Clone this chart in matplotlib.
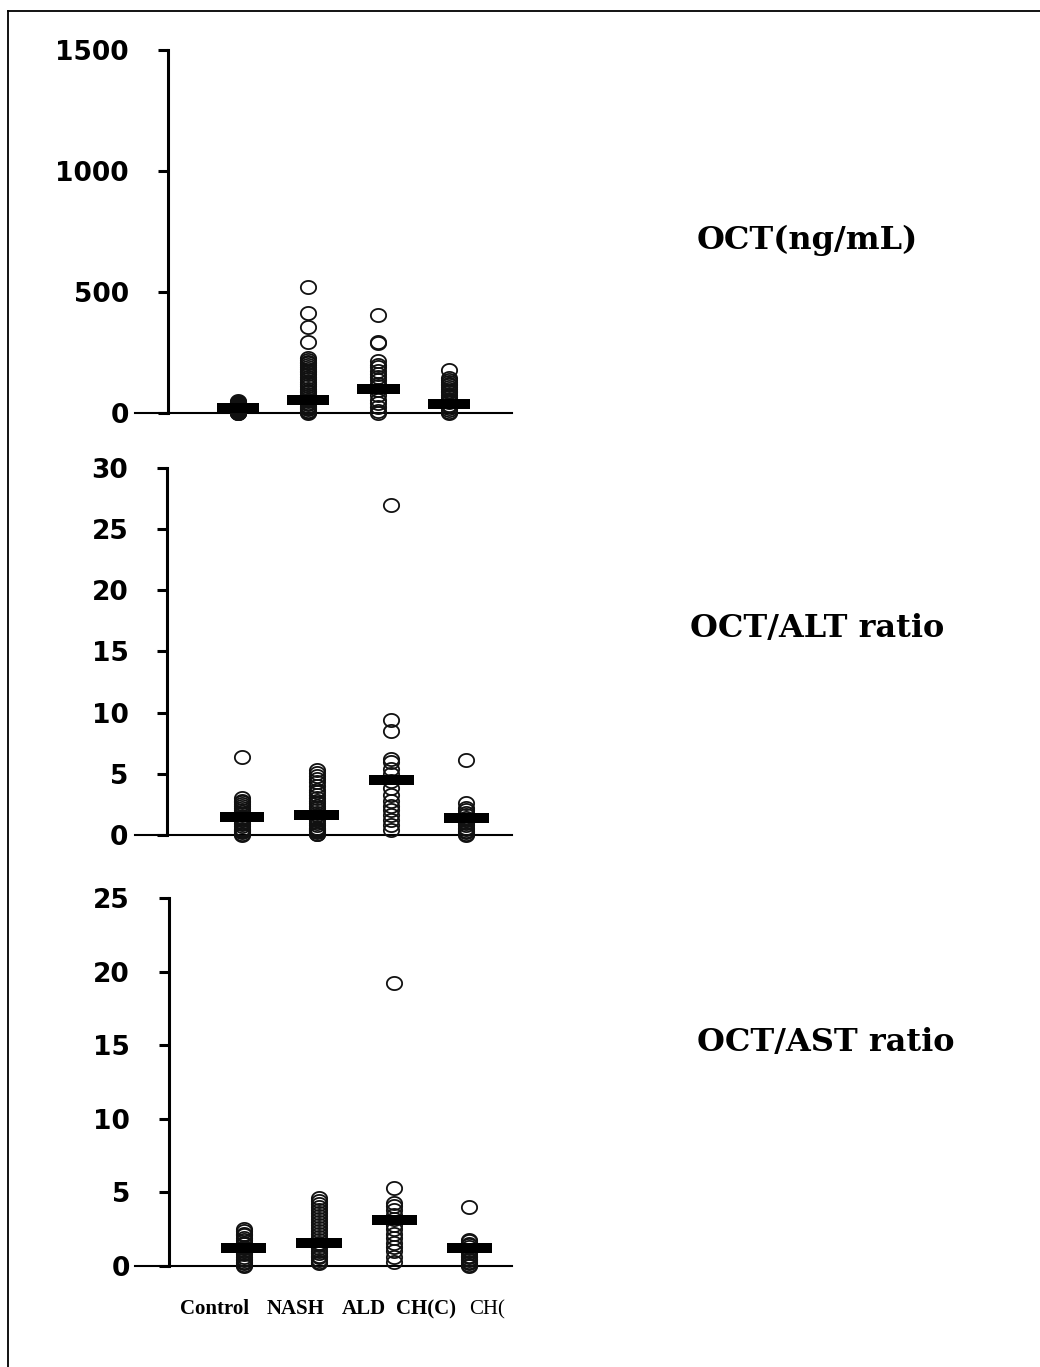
import numpy as np
import matplotlib
matplotlib.use("Agg")
import matplotlib.pyplot as plt
from matplotlib.path import Path
from matplotlib.lines import Line2D

# group names shown under the bottom panel
groups = ["Control", "NASH", "ALD", "CH(C)"]
extra_label = "CH("

# OCT (ng/mL)
oct_control = [48, 45, 42, 40, 38, 35, 32, 30, 28, 26, 24, 22, 20, 18, 16,
               14, 12, 10, 8, 6, 5, 4, 3, 2, 1, 0]
oct_nash = [520, 415, 355, 295, 228, 220, 212, 205, 198, 190, 182, 175, 168,
            160, 150, 140, 130, 120, 110, 100, 92, 85, 78, 70, 62, 55, 48, 42,
            36, 30, 25, 20, 15, 10, 6, 3, 0]
oct_ald = [405, 293, 288, 215, 200, 190, 175, 160, 150, 135, 120, 110, 95,
           75, 55, 40, 25, 10, 0]
oct_chc = [178, 145, 138, 130, 122, 115, 108, 100, 92, 85, 75, 65, 55, 45,
           35, 28, 20, 12, 6, 0]
oct_means = [20, 55, 100, 37]

# OCT/ALT ratio
alt_control = [6.4, 3.0, 2.8, 2.7, 2.5, 2.4, 2.2, 2.0, 1.9, 1.7, 1.5, 1.4,
               1.2, 1.0, 0.9, 0.7, 0.5, 0.4, 0.3, 0.2, 0.1, 0.0]
alt_nash = [5.3, 5.1, 4.8, 4.6, 4.3, 4.0, 3.7, 3.5, 3.3, 3.0, 2.8, 2.6, 2.4,
            2.2, 2.0, 1.8, 1.6, 1.4, 1.2, 1.0, 0.8, 0.6, 0.5, 0.4, 0.3, 0.2,
            0.1, 0.1]
alt_ald = [27.0, 9.4, 8.5, 6.2, 6.0, 5.4, 5.0, 4.4, 3.8, 3.3, 2.8, 2.4, 2.0,
           1.6, 1.2, 0.8, 0.4]
alt_chc = [6.1, 2.6, 2.2, 2.0, 1.8, 1.6, 1.4, 1.2, 1.0, 0.8, 0.6, 0.5, 0.3,
           0.2, 0.1, 0.0]
alt_means = [1.45, 1.6, 4.5, 1.35]

# OCT/AST ratio
ast_control = [2.5, 2.4, 2.2, 2.1, 1.9, 1.8, 1.6, 1.5, 1.3, 1.2, 1.0, 0.9,
               0.8, 0.6, 0.5, 0.4, 0.3, 0.2, 0.1, 0.0]
ast_nash = [4.6, 4.4, 4.2, 4.0, 3.8, 3.6, 3.4, 3.2, 3.0, 2.8, 2.6, 2.4, 2.2,
            2.0, 1.8, 1.6, 1.4, 1.2, 1.0, 0.9, 0.7, 0.6, 0.4, 0.3, 0.2]
ast_ald = [19.2, 5.3, 4.3, 4.1, 3.8, 3.5, 3.2, 2.8, 2.5, 2.2, 1.9, 1.6, 1.3,
           1.0, 0.6, 0.3]
ast_chc = [4.0, 1.8, 1.7, 1.5, 1.4, 1.3, 1.1, 1.0, 0.9, 0.7, 0.6, 0.5, 0.4,
           0.3, 0.2, 0.1, 0.0]
ast_means = [1.22, 1.6, 3.1, 1.25]

panel_titles = ["OCT(ng/mL)", "OCT/ALT ratio", "OCT/AST ratio"]
panel_data = [
    [oct_control, oct_nash, oct_ald, oct_chc],
    [alt_control, alt_nash, alt_ald, alt_chc],
    [ast_control, ast_nash, ast_ald, ast_chc],
]
panel_means = [oct_means, alt_means, ast_means]
panel_ticks = [[0, 500, 1000, 1500], [0, 5, 10, 15, 20, 25, 30],
               [0, 5, 10, 15, 20, 25]]

W, H = 1040, 1367
fig = plt.figure(figsize=(W / 100, H / 100), dpi=100)

# layout in pixels: (top, bottom) of each axes, plus y / x limits
boxes = [(50, 430), (468, 852), (898, 1283)]
ylims = [(-70, 1500), (-1.4, 30), (-1.15, 25)]
xlims = [(-1.465, 3.90), (-1.432, 3.614), (-1.45, 3.57)]
title_pos = [(697, 240), (690, 628), (697, 1042)]

# slightly flattened circle marker
t = np.linspace(0, 2 * np.pi, 80)
ellipse = Path(np.column_stack([np.cos(t), 0.86 * np.sin(t)]))

left_px, right_px = 135, 512
for i in range(3):
    top, bot = boxes[i]
    ax = fig.add_axes([left_px / W, 1 - bot / H, (right_px - left_px) / W,
                       (bot - top) / H])
    ax.set_xlim(*xlims[i])
    ax.set_ylim(*ylims[i])

    for g, vals in enumerate(panel_data[i]):
        ax.plot([g] * len(vals), vals, linestyle="none", marker=ellipse,
                markersize=11, markerfacecolor="none", markeredgecolor="#111111",
                markeredgewidth=1.3, clip_on=False, zorder=3)
    ax.hlines(panel_means[i], np.arange(4) - 0.3, np.arange(4) + 0.3,
              colors="black", linewidth=7.2, capstyle="butt", zorder=4)

    for s in ["top", "right"]:
        ax.spines[s].set_visible(False)
    ax.spines["left"].set_position(("data", -1))
    ax.spines["left"].set_bounds(0, ylims[i][1])
    ax.spines["left"].set_linewidth(2.2)
    ax.spines["bottom"].set_position(("data", 0))
    ax.spines["bottom"].set_linewidth(1.5)
    ax.set_xticks([])
    ax.set_yticks(panel_ticks[i])
    ax.tick_params(axis="y", direction="out", length=7, width=2.2, pad=21,
                   labelsize=19)
    for lab in ax.get_yticklabels():
        lab.set_fontweight("bold")
        lab.set_family("DejaVu Sans")

    tx, ty = title_pos[i]
    fig.text(tx / W, 1 - ty / H, panel_titles[i], ha="left", va="center",
             fontsize=23, fontweight="bold", family="DejaVu Serif")

# group labels under the last panel
label_x = [180, 267, 342, 396]
for name, x in zip(groups, label_x):
    fig.text(x / W, 1 - 1314 / H, name, ha="left", va="baseline",
             fontsize=15, fontweight="bold", family="Liberation Serif")
fig.text(469 / W, 1 - 1314 / H, extra_label, ha="left", va="baseline",
         fontsize=15, family="Liberation Serif")

# frame lines at the top and left of the picture
fig.add_artist(Line2D([8 / W, 8 / W], [1 - 11 / H, 0], color="black",
                      linewidth=1.3, transform=fig.transFigure))
fig.add_artist(Line2D([8 / W, 1], [1 - 11 / H, 1 - 11 / H], color="black",
                      linewidth=1.3, transform=fig.transFigure))

fig.savefig("out.png", dpi=100)
